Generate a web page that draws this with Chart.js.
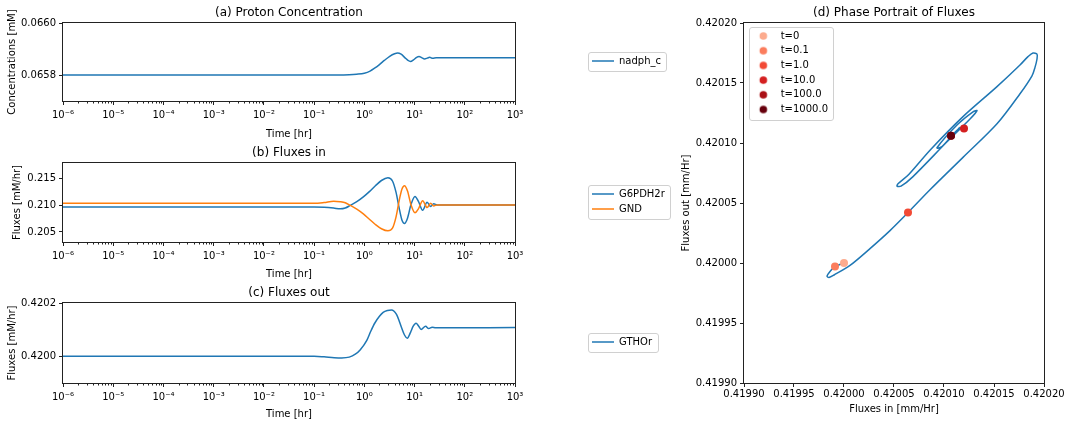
<!DOCTYPE html>
<html>
<head>
<meta charset="utf-8">
<script src="https://cdn.jsdelivr.net/npm/chart.js@4.4.0/dist/chart.umd.min.js"></script>
<style>
  body { margin: 0; background: #fff; width: 1072px; height: 424px; position: relative; overflow: hidden; }
  canvas { position: absolute; }
</style>
</head>
<body>
<canvas id="ca" width="680" height="140" style="left:0;top:0"></canvas>
<canvas id="cb" width="680" height="140" style="left:0;top:140px"></canvas>
<canvas id="cc" width="680" height="144" style="left:0;top:280px"></canvas>
<canvas id="cd" width="402" height="424" style="left:670px;top:0"></canvas>
<script>
// ---- data ----
const xMajor = [1e-6, 1e-5, 1e-4, 1e-3, 1e-2, 1e-1, 1e0, 1e1, 1e2, 1e3];
const xTickLabels = ['10⁻⁶', '10⁻⁵', '10⁻⁴', '10⁻³', '10⁻²', '10⁻¹', '10⁰', '10¹', '10²', '10³'];

// (a) nadph_c
const timeA = [1e-6, 0.1, 0.3, 0.5, 0.7, 1.0, 1.3, 1.6, 2.0, 2.5, 3.2, 4.0, 4.6, 5.4, 6.4, 7.4, 8.3, 9.5, 11.0, 12.3, 13.8, 15.8, 18.0, 20.0, 23.0, 27.0, 1000];
const nadphC = [0.065800, 0.065800, 0.065800, 0.065801, 0.065803, 0.065807, 0.065815, 0.065826, 0.065840, 0.065856, 0.065872, 0.065882, 0.065885, 0.065880, 0.065867, 0.065856, 0.065852, 0.065858, 0.065868, 0.065871, 0.065867, 0.065862, 0.065865, 0.065868, 0.065864, 0.065866, 0.065866];
const yTicksA = [0.0658, 0.0660];
const yLabelsA = ['0.0658', '0.0660'];

// (b) fluxes in
const timeB = [1e-6, 0.1, 0.158, 0.245, 0.331, 0.417, 0.525, 0.708, 0.955, 1.26, 1.66, 2.19, 2.95, 3.63, 4.27, 5.01, 5.62, 6.31, 7.24, 8.51, 10.2, 12.0, 14.5, 17.8, 20.9, 24.0, 28.2, 1000];
const g6pdh2r = [0.2097, 0.2097, 0.20965, 0.2095, 0.20935, 0.2095, 0.2100, 0.2107, 0.2116, 0.2126, 0.2137, 0.2147, 0.2152, 0.2146, 0.2125, 0.2092, 0.2072, 0.2066, 0.2076, 0.2102, 0.2117, 0.2107, 0.2091, 0.2106, 0.2098, 0.2103, 0.2101, 0.2101];
const gnd = [0.2104, 0.2104, 0.21055, 0.2108, 0.2107, 0.2105, 0.2100, 0.2093, 0.2084, 0.2074, 0.2064, 0.2056, 0.2052, 0.2057, 0.2078, 0.2112, 0.2131, 0.2137, 0.2127, 0.2101, 0.2086, 0.2094, 0.2109, 0.2096, 0.2104, 0.2099, 0.2101, 0.2101];
const yTicksB = [0.205, 0.210, 0.215];
const yLabelsB = ['0.205', '0.210', '0.215'];

// (c) fluxes out
const timeC = [1e-6, 0.1, 0.158, 0.251, 0.355, 0.501, 0.661, 0.832, 1.12, 1.35, 1.62, 2.0, 2.37, 2.88, 3.47, 4.37, 5.5, 6.31, 7.16, 8.32, 9.33, 10.7, 12.0, 13.5, 16.6, 19.1, 22.4, 26.3, 1000];
const gthor = [0.420000, 0.420000, 0.419998, 0.419995, 0.419994, 0.419997, 0.420008, 0.420025, 0.420060, 0.420095, 0.420125, 0.420150, 0.420165, 0.420172, 0.420174, 0.420157, 0.420108, 0.420080, 0.420068, 0.420090, 0.420112, 0.420124, 0.420114, 0.420101, 0.420113, 0.420104, 0.420109, 0.420107, 0.420108];
const yTicksC = [0.4200, 0.4202];
const yLabelsC = ['0.4200', '0.4202'];

// (d) phase portrait
const phaseIn = [0.420000, 0.419991, 0.419986, 0.419983, 0.419985, 0.419990, 0.420006, 0.420026, 0.420046, 0.420064, 0.420086, 0.420119, 0.420153, 0.420176, 0.420188, 0.420191, 0.420193, 0.420193, 0.420189, 0.420184, 0.420176, 0.420153, 0.420119, 0.420086, 0.420065, 0.420054, 0.420053, 0.420057, 0.420069, 0.420103, 0.420126, 0.420133, 0.420129, 0.420113, 0.420093, 0.420098, 0.420111, 0.420116, 0.420110, 0.420107];
const phaseOut = [0.420000, 0.419997, 0.419993, 0.419989, 0.419988, 0.419990, 0.419998, 0.420012, 0.420027, 0.420042, 0.420061, 0.420088, 0.420116, 0.420141, 0.420156, 0.420163, 0.420170, 0.420174, 0.420175, 0.420172, 0.420165, 0.420147, 0.420122, 0.420094, 0.420074, 0.420066, 0.420064, 0.420064, 0.420072, 0.420101, 0.420120, 0.420127, 0.420126, 0.420115, 0.420096, 0.420097, 0.420109, 0.420113, 0.420108, 0.420106];
const markerLabels = ['t=0', 't=0.1', 't=1.0', 't=10.0', 't=100.0', 't=1000.0'];
const markerIn = [0.420000, 0.419991, 0.420064, 0.420120, 0.420107, 0.420107];
const markerOut = [0.420000, 0.419997, 0.420042, 0.420112, 0.420106, 0.420106];
const phaseTicks = [0.41990, 0.41995, 0.42000, 0.42005, 0.42010, 0.42015, 0.42020];
const phaseTickLabels = ['0.41990', '0.41995', '0.42000', '0.42005', '0.42010', '0.42015', '0.42020'];

// ---- styles ----
const C0 = '#1f77b4', C1 = '#ff7f0e';
const markerColors = ['#fcab8e', '#fb7d5d', '#f24a35', '#d42021', '#aa1016', '#67000d'];

Chart.defaults.font.family = "'DejaVu Sans', sans-serif";
Chart.defaults.font.size = 10;
Chart.defaults.color = '#000';

function pts(xs, ys) { return xs.map((x, i) => ({ x: x, y: ys[i] })); }

// legend that floats at a given spot and takes no layout space
const floatLegend = {
  id: 'floatLegend',
  beforeLayout(chart) {
    const lg = chart.legend;
    if (lg && !lg._wrapped) {
      const fit = lg.fit.bind(lg);
      lg.fit = function () { fit(); this._realW = this.width; this.width = 0; };
      lg._wrapped = true;
    }
  },
  afterLayout(chart, args, o) {
    const lg = chart.legend;
    if (!lg || o.x === undefined) return;
    lg.left = o.x; lg.top = o.y;
    lg.width = lg._realW; lg.height = 200;
    lg.right = o.x + lg._realW; lg.bottom = o.y + 200;
  }
};

// spines, minor log ticks, legend frame
const frame = {
  id: 'frame',
  afterDraw(chart) {
    const a = chart.chartArea, c = chart.ctx;
    c.save();
    c.strokeStyle = '#222';
    c.lineWidth = 1;
    c.strokeRect(a.left - 0.5, a.top - 0.5, a.right - a.left + 1, a.bottom - a.top + 1);
    const x = chart.scales.x;
    if (x.type === 'logarithmic') {
      c.beginPath();
      x.ticks.forEach(t => {
        if (t.major) return;
        const px = Math.round(x.getPixelForValue(t.value)) + 0.5;
        c.moveTo(px, a.bottom);
        c.lineTo(px, a.bottom + 2.5);
      });
      c.stroke();
    }
    const lg = chart.legend;
    if (lg && lg.legendHitBoxes && lg.legendHitBoxes.length) {
      const hb = lg.legendHitBoxes;
      const l = Math.min(...hb.map(h => h.left)) - 4.5;
      const t = Math.min(...hb.map(h => h.top)) - 4;
      const r = Math.max(...hb.map(h => h.left + h.width)) + 5;
      const b = Math.max(...hb.map(h => h.top + h.height)) + 5;
      c.strokeStyle = '#d0d0d0';
      c.beginPath();
      c.roundRect(Math.round(l) + 0.5, Math.round(t) + 0.5, Math.round(r - l), Math.round(b - t), 2.5);
      c.stroke();
    }
    c.restore();
  }
};

function logAxis(h, padBottom) {
  return {
    type: 'logarithmic', min: 1e-6, max: 1e3, bounds: 'data',
    afterBuildTicks: s => {
      const t = [];
      xMajor.forEach((m, i) => {
        t.push({ value: m, major: true, lbl: xTickLabels[i] });
        if (i < xMajor.length - 1) for (let k = 2; k <= 9; k++) t.push({ value: m * k, major: false });
      });
      s.ticks = t;
    },
    afterFit: s => { s.height = h; },
    ticks: { autoSkip: false, maxRotation: 0, padding: 4, callback: (v, i, t) => t[i].major ? t[i].lbl : '' },
    grid: { drawOnChartArea: false, tickLength: 4, tickColor: '#222', tickWidth: c => (c.tick && c.tick.major) ? 1 : 0 },
    border: { display: false },
    title: { display: true, text: 'Time [hr]', font: { size: 10 }, padding: { top: 0, bottom: padBottom } }
  };
}

function yAxis(min, max, vals, labels, text, titlePad, w) {
  return {
    type: 'linear', min: min, max: max, bounds: 'data',
    afterBuildTicks: s => { s.ticks = vals.map(v => ({ value: v })); },
    afterFit: s => { s.width = w; },
    ticks: { padding: 3, autoSkip: false, callback: (v, i) => labels[i] },
    grid: { drawOnChartArea: false, tickLength: 4, tickColor: '#222' },
    border: { display: false },
    title: { display: true, text: text, font: { size: 10 }, padding: { top: titlePad, bottom: 0 } }
  };
}

function titleOpts(text) {
  return { display: true, text: text, fullSize: false, color: '#000', font: { size: 12, weight: 'normal' }, padding: { top: 5.6, bottom: 3 } };
}

function lineLegend() {
  return {
    position: 'right', align: 'start',
    labels: {
      usePointStyle: true, pointStyleWidth: 22, boxHeight: 10, padding: 5, font: { size: 10 },
      generateLabels: ch => ch.data.datasets.map((d, i) => ({
        text: d.label, strokeStyle: d.borderColor, fillStyle: d.borderColor, lineWidth: 1.5,
        pointStyle: 'line', hidden: false, datasetIndex: i, fontColor: '#000'
      }))
    }
  };
}

function lineSet(label, xs, ys, color, order) {
  return { label: label, data: pts(xs, ys), borderColor: color, backgroundColor: color, borderWidth: 1.5,
           pointRadius: 0, cubicInterpolationMode: 'monotone', order: order };
}

function seriesChart(id, title, datasets, yax, xax, legendPos) {
  return new Chart(document.getElementById(id), {
    type: 'line',
    data: { datasets: datasets },
    options: {
      responsive: false, animation: false, events: [],
      layout: { padding: { left: 0, right: 165, top: 0, bottom: 0 } },
      scales: { x: xax, y: yax },
      plugins: {
        title: titleOpts(title),
        legend: lineLegend(),
        tooltip: { enabled: false },
        floatLegend: legendPos
      }
    },
    plugins: [floatLegend, frame]
  });
}

seriesChart('ca', '(a) Proton Concentration',
  [lineSet('nadph_c', timeA, nadphC, C0, 0)],
  yAxis(0.0657, 0.0660, yTicksA, yLabelsA, 'Concentrations [mM]', 6, 63),
  logAxis(39, 0), { x: 587, y: 51 });

seriesChart('cb', '(b) Fluxes in',
  [lineSet('G6PDH2r', timeB, g6pdh2r, C0, 1), lineSet('GND', timeB, gnd, C1, 0)],
  yAxis(0.2031, 0.2180, yTicksB, yLabelsB, 'Fluxes [mM/hr]', 11.5, 63),
  logAxis(38, 0), { x: 587, y: 44 });

seriesChart('cc', '(c) Fluxes out',
  [lineSet('GTHOr', timeC, gthor, C0, 0)],
  yAxis(0.4199, 0.4202, yTicksC, yLabelsC, 'Fluxes [mM/hr]', 6, 63),
  logAxis(41, 3.2), { x: 587, y: 52 });

function dotImg(col) {
  const cv = document.createElement('canvas');
  cv.width = 22; cv.height = 10;
  const g = cv.getContext('2d');
  g.fillStyle = col;
  g.beginPath();
  g.arc(9.6, 5, 3.8, 0, Math.PI * 2);
  g.fill();
  return cv;
}

new Chart(document.getElementById('cd'), {
  type: 'scatter',
  data: {
    datasets: [
      { label: 'trajectory', data: pts(phaseIn, phaseOut), showLine: true, borderColor: C0, borderWidth: 1.5,
        pointRadius: 0, tension: 0.3, order: 10 }
    ].concat(markerLabels.map((l, i) => ({
      label: l, data: [{ x: markerIn[i], y: markerOut[i] }], backgroundColor: markerColors[i],
      borderWidth: 0, pointRadius: 4, order: 6 - i
    })))
  },
  options: {
    responsive: false, animation: false, events: [],
    layout: { padding: { left: 0, right: 28, top: 0, bottom: 0 } },
    scales: {
      x: {
        type: 'linear', min: 0.4199, max: 0.4202, bounds: 'data',
        afterBuildTicks: s => { s.ticks = phaseTicks.map(v => ({ value: v })); },
        afterFit: s => { s.height = 41; },
        ticks: { padding: 1, maxRotation: 0, autoSkip: false, callback: (v, i) => phaseTickLabels[i] },
        grid: { drawOnChartArea: false, tickLength: 4, tickColor: '#222' },
        border: { display: false },
        title: { display: true, text: 'Fluxes in [mm/Hr]', font: { size: 10 }, padding: { top: 0, bottom: 8.7 } }
      },
      y: yAxis(0.4199, 0.4202, phaseTicks, phaseTickLabels, 'Fluxes out [mm/Hr]', 10, 74)
    },
    plugins: {
      title: titleOpts('(d) Phase Portrait of Fluxes'),
      tooltip: { enabled: false },
      legend: {
        position: 'right', align: 'start',
        labels: {
          usePointStyle: true, pointStyleWidth: 22, boxHeight: 10, padding: 4.7, font: { size: 10 },
          generateLabels: () => markerLabels.map((l, i) => ({
            text: l, fillStyle: markerColors[i], strokeStyle: markerColors[i], lineWidth: 0,
            pointStyle: dotImg(markerColors[i]), hidden: false, datasetIndex: i + 1, fontColor: '#000'
          }))
        }
      },
      floatLegend: { x: 79, y: 26.3 }
    }
  },
  plugins: [floatLegend, frame]
});
</script>
</body>
</html>
